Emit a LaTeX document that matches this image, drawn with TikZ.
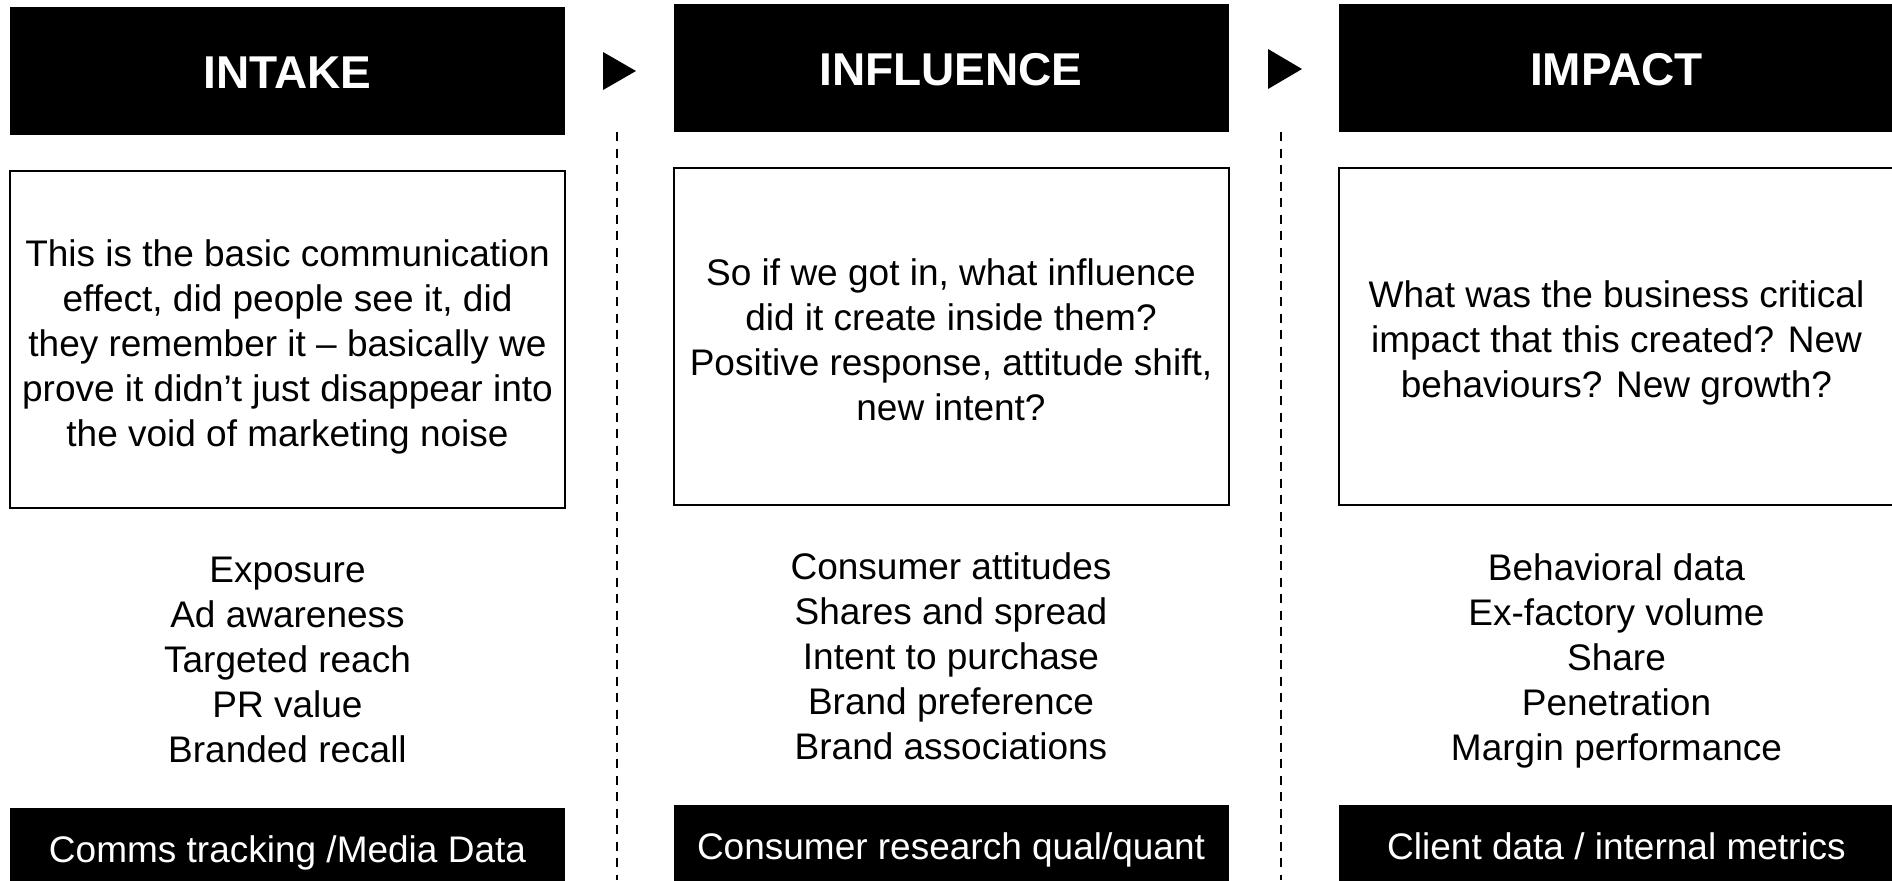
\documentclass[tikz,border=0pt]{standalone}
\usepackage{fontspec}
\setmainfont{Liberation Sans}
\begin{document}
\begin{tikzpicture}[x=0.5pt,y=-0.5pt,
  header/.style={fill=black, text=white, inner sep=0pt,
    minimum width=277.5pt, minimum height=64pt,
    text height=17.1pt, text depth=0pt,
    font=\fontsize{23}{27}\selectfont\bfseries},
  textbox/.style={draw=black, line width=1pt, fill=white, inner sep=0pt,
    minimum width=277.5pt, minimum height=168.5pt},
  bodytext/.style={inner sep=0pt, align=center,
    font=\fontsize{18.5}{22.5}\selectfont},
  metrics/.style={inner sep=0pt, align=center,
    font=\fontsize{18.5}{22.5}\selectfont},
  source/.style={fill=black, text=white, inner sep=0pt,
    minimum width=277.5pt, minimum height=41pt,
    text height=15.5pt, text depth=2.5pt,
    font=\fontsize{18.5}{22.5}\selectfont},
  stagearrow/.style={fill=black, draw=none},
  divider/.style={draw=black, line width=1pt, dash pattern=on 4.5pt off 3.75pt}
]
\useasboundingbox (0,0) rectangle (1892,880);

% separators between the three stages
\draw[divider] (617,132) -- (617,880);
\draw[divider] (1281,132) -- (1281,880);

% stage headers
\node[header] (intake)    at (287.5,71)  {INTAKE};
\node[header] (influence) at (951,68)    {INFLUENCE};
\node[header] (impact)    at (1616.5,68) {IMPACT};

% arrowheads between headers
\fill[stagearrow] (603,52) -- (636,71) -- (603,90) -- cycle;
\fill[stagearrow] (1268,49) -- (1302,69) -- (1268,89) -- cycle;

% description frames
\node[textbox] (intakeBox)    at (287.5,339.5) {};
\node[textbox] (influenceBox) at (951,336)     {};
\node[textbox] (impactBox)    at (1616.5,336)  {};

% descriptions
\node[bodytext] (intakeText) at ([yshift=-3.5pt]intakeBox.center)
  {This is the basic communication\\effect, did people see it, did\\they remember it -- basically we\\prove it didn’t just disappear into\\the void of marketing noise};
\node[bodytext] (influenceText) at ([yshift=-2pt]influenceBox.center)
  {So if we got in, what influence\\did it create inside them?\\Positive response, attitude shift,\\new intent?};
\node[bodytext] (impactText) at ([yshift=-3.5pt]impactBox.center)
  {What was the business critical\\impact that this created? New\\behaviours? New growth?};

% metrics
\node[metrics] (intakeList) at (287.5,660)
  {Exposure\\Ad awareness\\Targeted reach\\PR value\\Branded recall};
\node[metrics] (influenceList) at (951,656.5)
  {Consumer attitudes\\Shares and spread\\Intent to purchase\\Brand preference\\Brand associations};
\node[metrics] (impactList) at (1616.5,661)
  {Behavioral data\\Ex-factory volume\\Share\\Penetration\\Margin performance};

% data sources
\node[source] (intakeSrc)    at (287.5,849)  {Comms tracking /Media Data};
\node[source] (influenceSrc) at (951,846)    {Consumer research qual/quant};
\node[source] (impactSrc)    at (1616.5,846) {Client data / internal metrics};
\end{tikzpicture}
\end{document}
